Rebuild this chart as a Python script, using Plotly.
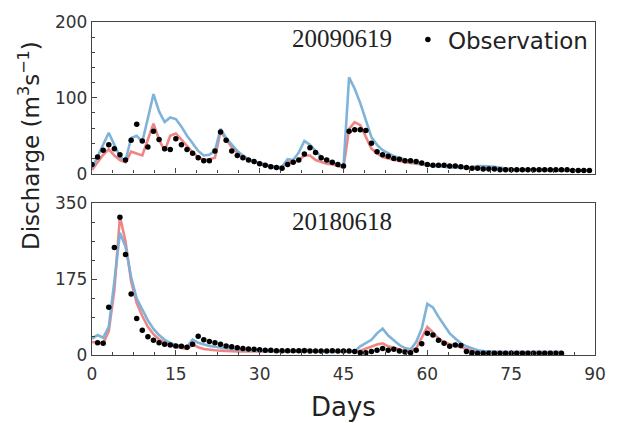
import plotly.graph_objects as go

# ---------------- data ----------------
days_2009 = list(range(0, 90))
obs_2009 = [12, 22, 31, 38, 33, 25, 18, 44, 65, 43, 35, 56, 45, 33, 32, 46, 38, 32, 27, 21,
            17, 17, 30, 55, 44, 30, 24, 21, 18, 16, 13, 11, 9, 8, 7, 12, 15, 18, 26, 34,
            28, 21, 18, 15, 12, 10, 56, 58, 58, 57, 40, 29, 25, 23, 20, 19, 17, 17, 16, 14,
            12, 11, 11, 11, 10, 10, 9, 8, 7, 7, 6, 6, 6, 5, 5, 5, 5, 5, 5, 5,
            5, 5, 5, 5, 5, 5, 4, 4, 4, 4]
blue_2009 = [7, 22, 38, 54, 38, 22, 17, 47, 50, 42, 73, 105, 82, 68, 74, 72, 62, 50, 40, 30,
             24, 25, 30, 59, 47, 38, 30, 24, 19, 16, 14, 12, 10, 8, 9, 19, 18, 28, 43, 38,
             30, 22, 17, 14, 12, 9, 127, 112, 93, 70, 48, 38, 31, 27, 23, 21, 18, 16, 14, 13,
             11, 10, 9, 9, 8, 8, 8, 7, 8, 10, 10, 10, 9, 8, 7, 6, 5, 5, 5, 5,
             5, 5, 5, 5, 4, 4, 4, 4, 4, 4]
red_2009 = [5, 15, 25, 32, 24, 18, 15, 29, 27, 24, 45, 66, 45, 30, 50, 53, 45, 36, 28, 22,
            18, 19, 21, 56, 45, 35, 28, 22, 18, 15, 13, 11, 9, 8, 9, 16, 14, 18, 24, 24,
            18, 15, 13, 12, 10, 8, 59, 68, 64, 48, 33, 27, 22, 20, 18, 17, 15, 14, 13, 12,
            11, 11, 11, 10, 10, 10, 9, 8, 7, 8, 9, 9, 8, 7, 6, 5, 5, 5, 5, 5,
            5, 5, 4, 4, 4, 4, 4, 4, 4, 4]

days_2018 = list(range(0, 85))
obs_2018 = [None, 28, 27, 110, 248, 318, 232, 141, 84, 57, 42, 34, 28, 25, 23, 21, 20, 18, 25, 43,
            35, 31, 28, 25, 21, 19, 17, 15, 14, 13, 12, 11, 11, 10, 10, 10, 10, 10, 10, 9,
            9, 9, 9, 10, 9, 9, 9, 8, 5, 5, 8, 11, 15, 11, 13, 9, 7, 5, 11, 26,
            50, 46, 34, 27, 20, 23, 22, 8, 5, 4, 4, 4, 4, 4, 4, 4, 4, 4, 4, 4,
            4, 4, 4, 4, 4]
blue_2018 = [38, 46, 40, 65, 170, 282, 250, 180, 130, 104, 80, 60, 46, 35, 28, 23, 20, 19, 36, 28,
             24, 21, 19, 17, 15, 14, 13, 12, 11, 10, 10, 9, 9, 8, 8, 8, 8, 9, 14, 10,
             8, 7, 7, 7, 7, 7, 7, 8, 20, 27, 35, 50, 61, 45, 34, 23, 16, 13, 30, 61,
             118, 110, 88, 70, 50, 38, 27, 20, 15, 11, 9, 8, 7, 7, 7, 7, 7, 7, 7, 7,
             7, 7, 7, 7, 7]
red_2018 = [30, 28, 27, 55, 150, 320, 262, 170, 120, 90, 65, 48, 36, 28, 23, 19, 16, 14, 24, 18,
            14, 12, 11, 10, 9, 9, 8, 8, 8, 8, 8, 8, 8, 8, 8, 8, 8, 8, 10, 8,
            8, 8, 8, 8, 8, 8, 8, 8, 10, 15, 20, 24, 27, 20, 17, 13, 9, 10, 15, 40,
            65, 52, 38, 30, 25, 22, 18, 13, 10, 9, 8, 7, 7, 7, 7, 7, 7, 7, 7, 7,
            7, 7, 7, 7, 7]

x_ticks = [0, 15, 30, 45, 60, 75, 90]
y_ticks_top = [0, 100, 200]
y_ticks_bot = [0, 175, 350]

# ---------------- styling ----------------
BLUE = "rgba(120,175,215,0.95)"
RED = "rgba(238,120,120,0.9)"
AX = "#444444"
FONT = "DejaVu Sans"

fig = go.Figure()

def add_panel(days, red, blue, obs, xa, ya, legend):
    fig.add_trace(go.Scatter(x=days, y=red, mode="lines", line=dict(color=RED, width=2.6),
                             xaxis=xa, yaxis=ya, showlegend=False))
    fig.add_trace(go.Scatter(x=days, y=blue, mode="lines", line=dict(color=BLUE, width=2.6),
                             xaxis=xa, yaxis=ya, showlegend=False))
    fig.add_trace(go.Scatter(x=days, y=obs, mode="markers", name="Observation",
                             marker=dict(color="black", size=5.5),
                             xaxis=xa, yaxis=ya, showlegend=legend))

add_panel(days_2009, red_2009, blue_2009, obs_2009, "x", "y", True)
add_panel(days_2018, red_2018, blue_2018, obs_2018, "x2", "y2", False)

common_axis = dict(showline=True, linecolor=AX, linewidth=1.3, mirror=True,
                   ticks="inside", ticklen=5, tickcolor=AX, tickwidth=1.2,
                   showgrid=False, zeroline=False,
                   tickfont=dict(family=FONT, size=17, color="#333333"))

fig.update_layout(
    width=618, height=423,
    margin=dict(l=92, r=18, t=19, b=68),
    plot_bgcolor="white", paper_bgcolor="white",
    xaxis=dict(domain=[0, 1], anchor="y", range=[0, 90], tickvals=x_ticks, showticklabels=False,
               minor=dict(ticks="inside", ticklen=3, dtick=3.75, tick0=0, tickcolor=AX),
               **common_axis),
    yaxis=dict(domain=[0.5446, 1], anchor="x", range=[0, 200], tickvals=y_ticks_top,
               minor=dict(ticks="inside", ticklen=3, dtick=20, tick0=0, tickcolor=AX),
               **common_axis),
    xaxis2=dict(domain=[0, 1], anchor="y2", range=[0, 90], tickvals=x_ticks,
                ticklabelstandoff=3,
                minor=dict(ticks="inside", ticklen=3, dtick=3.75, tick0=0, tickcolor=AX),
                **common_axis),
    yaxis2=dict(domain=[0, 0.4554], anchor="x2", range=[0, 350], tickvals=y_ticks_bot,
                minor=dict(ticks="inside", ticklen=3, dtick=43.75, tick0=0, tickcolor=AX),
                **common_axis),
    legend=dict(x=0.628, y=0.947, xanchor="left", yanchor="middle",
                bgcolor="rgba(0,0,0,0)", font=dict(family=FONT, size=23, color="#222222"),
                itemwidth=30),
    annotations=[
        dict(text="20090619", xref="paper", yref="paper", x=0.497, y=0.949,
             xanchor="center", yanchor="middle", showarrow=False,
             font=dict(family="Liberation Serif", size=25, color="#222222")),
        dict(text="20180618", xref="paper", yref="paper", x=0.497, y=0.40,
             xanchor="center", yanchor="middle", showarrow=False,
             font=dict(family="Liberation Serif", size=25, color="#222222")),
        dict(text="Days", xref="paper", yref="paper", x=0.50, y=-0.155,
             xanchor="center", yanchor="middle", showarrow=False,
             font=dict(family=FONT, size=26, color="#222222")),
        dict(text="Discharge (m<sup>3</sup>s<sup>\u22121</sup>)", xref="paper", yref="paper",
             x=-0.125, y=0.628, xanchor="center", yanchor="middle", textangle=-90,
             showarrow=False, font=dict(family=FONT, size=23, color="#222222")),
    ],
)

fig.write_html("out.html")
